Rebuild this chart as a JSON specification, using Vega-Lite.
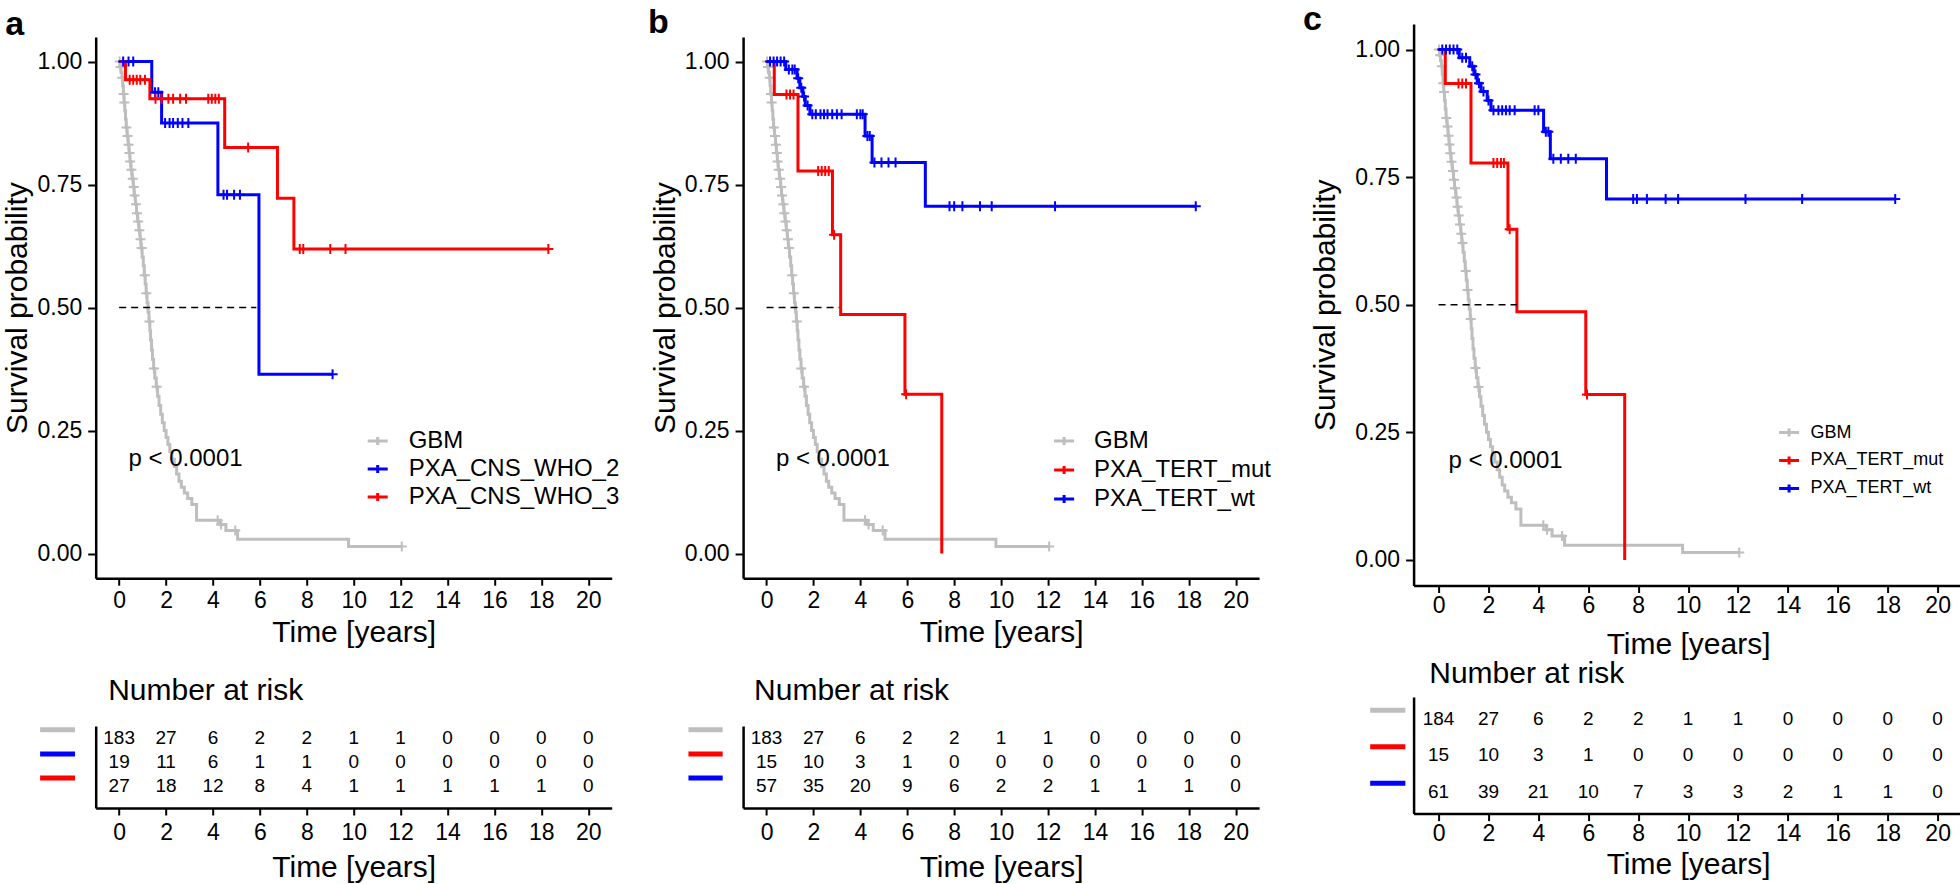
{
"$schema":"https://vega.github.io/schema/vega-lite/v6.json",
"background":"white",
"padding":{"left":2.7,"top":3,"right":0,"bottom":0},
"config":{
 "font":"Liberation Sans",
 "view":{"stroke":null},
 "axis":{"grid":false,"domainColor":"black","tickColor":"black","labelColor":"black","titleColor":"black","labelFontSize":23,"titleFontSize":30,"titleFontWeight":"normal","domainWidth":2.5,"tickWidth":2,"labelFont":"Liberation Sans","titleFont":"Liberation Sans"},
 "legend":{"labelFont":"Liberation Sans","labelColor":"black","labelLimit":500},
 "title":{"font":"Liberation Sans","color":"black"}
},
"datasets":{
 "gbm":[
  {"group":"GBM","t":0,"s":1},{"group":"GBM","t":0.04,"s":0.989},{"group":"GBM","t":0.08,"s":0.978},{"group":"GBM","t":0.12,"s":0.967},{"group":"GBM","t":0.15,"s":0.951},{"group":"GBM","t":0.18,"s":0.934},{"group":"GBM","t":0.21,"s":0.917},{"group":"GBM","t":0.24,"s":0.9},{"group":"GBM","t":0.27,"s":0.883},{"group":"GBM","t":0.3,"s":0.866},{"group":"GBM","t":0.34,"s":0.849},{"group":"GBM","t":0.38,"s":0.831},{"group":"GBM","t":0.42,"s":0.814},{"group":"GBM","t":0.46,"s":0.797},{"group":"GBM","t":0.5,"s":0.78},{"group":"GBM","t":0.55,"s":0.762},{"group":"GBM","t":0.6,"s":0.745},{"group":"GBM","t":0.64,"s":0.728},{"group":"GBM","t":0.69,"s":0.71},{"group":"GBM","t":0.74,"s":0.692},{"group":"GBM","t":0.79,"s":0.675},{"group":"GBM","t":0.84,"s":0.657},{"group":"GBM","t":0.89,"s":0.639},{"group":"GBM","t":0.93,"s":0.621},{"group":"GBM","t":0.98,"s":0.603},{"group":"GBM","t":1.03,"s":0.585},{"group":"GBM","t":1.07,"s":0.566},{"group":"GBM","t":1.11,"s":0.548},{"group":"GBM","t":1.15,"s":0.529},{"group":"GBM","t":1.19,"s":0.51},{"group":"GBM","t":1.23,"s":0.491},{"group":"GBM","t":1.27,"s":0.472},{"group":"GBM","t":1.31,"s":0.453},{"group":"GBM","t":1.34,"s":0.434},{"group":"GBM","t":1.38,"s":0.414},{"group":"GBM","t":1.42,"s":0.395},{"group":"GBM","t":1.47,"s":0.376},{"group":"GBM","t":1.52,"s":0.357},{"group":"GBM","t":1.58,"s":0.339},{"group":"GBM","t":1.64,"s":0.32},{"group":"GBM","t":1.7,"s":0.301},{"group":"GBM","t":1.77,"s":0.283},{"group":"GBM","t":1.84,"s":0.266},{"group":"GBM","t":1.92,"s":0.25},{"group":"GBM","t":2.0,"s":0.236},{"group":"GBM","t":2.08,"s":0.222},{"group":"GBM","t":2.16,"s":0.207},{"group":"GBM","t":2.25,"s":0.192},{"group":"GBM","t":2.35,"s":0.177},{"group":"GBM","t":2.45,"s":0.162},{"group":"GBM","t":2.55,"s":0.147},{"group":"GBM","t":2.65,"s":0.135},{"group":"GBM","t":2.78,"s":0.123},{"group":"GBM","t":2.92,"s":0.112},{"group":"GBM","t":3.1,"s":0.1},{"group":"GBM","t":3.3,"s":0.068},{"group":"GBM","t":4.3,"s":0.059},{"group":"GBM","t":4.55,"s":0.047},{"group":"GBM","t":5.05,"s":0.029},{"group":"GBM","t":9.78,"s":0.0145},{"group":"GBM","t":12.05,"s":0.0145}
 ],
 "gbm_cens":[
  {"group":"GBM","t":0.02,"s":1},{"group":"GBM","t":0.06,"s":0.989},{"group":"GBM","t":0.13,"s":0.967},{"group":"GBM","t":0.19,"s":0.934},{"group":"GBM","t":0.22,"s":0.917},{"group":"GBM","t":0.31,"s":0.866},{"group":"GBM","t":0.36,"s":0.849},{"group":"GBM","t":0.4,"s":0.831},{"group":"GBM","t":0.44,"s":0.814},{"group":"GBM","t":0.47,"s":0.797},{"group":"GBM","t":0.52,"s":0.78},{"group":"GBM","t":0.58,"s":0.762},{"group":"GBM","t":0.62,"s":0.745},{"group":"GBM","t":0.66,"s":0.728},{"group":"GBM","t":0.72,"s":0.71},{"group":"GBM","t":0.76,"s":0.692},{"group":"GBM","t":0.81,"s":0.675},{"group":"GBM","t":0.86,"s":0.657},{"group":"GBM","t":0.91,"s":0.639},{"group":"GBM","t":0.96,"s":0.621},{"group":"GBM","t":1.09,"s":0.566},{"group":"GBM","t":1.16,"s":0.529},{"group":"GBM","t":1.29,"s":0.472},{"group":"GBM","t":1.48,"s":0.376},{"group":"GBM","t":1.6,"s":0.339},{"group":"GBM","t":4.2,"s":0.068},{"group":"GBM","t":4.35,"s":0.059},{"group":"GBM","t":4.95,"s":0.047},{"group":"GBM","t":12.05,"s":0.0145}
 ],
 "pval":[{"label":"p < 0.0001","t":0.4,"s":0.193}],
 "a_curve":[
  {"group":"PXA_CNS_WHO_2","t":0,"s":1},{"group":"PXA_CNS_WHO_2","t":1.39,"s":0.9375},{"group":"PXA_CNS_WHO_2","t":1.81,"s":0.875},{"group":"PXA_CNS_WHO_2","t":4.21,"s":0.7292},{"group":"PXA_CNS_WHO_2","t":5.96,"s":0.3646},{"group":"PXA_CNS_WHO_2","t":9.1,"s":0.3646},
  {"group":"PXA_CNS_WHO_3","t":0,"s":1},{"group":"PXA_CNS_WHO_3","t":0.27,"s":0.963},{"group":"PXA_CNS_WHO_3","t":1.31,"s":0.9244},{"group":"PXA_CNS_WHO_3","t":4.5,"s":0.8254},{"group":"PXA_CNS_WHO_3","t":6.75,"s":0.7222},{"group":"PXA_CNS_WHO_3","t":7.45,"s":0.619},{"group":"PXA_CNS_WHO_3","t":18.3,"s":0.619}
 ],
 "a_cens":[
  {"group":"PXA_CNS_WHO_2","t":0.17,"s":1},{"group":"PXA_CNS_WHO_2","t":0.4,"s":1},{"group":"PXA_CNS_WHO_2","t":0.6,"s":1},{"group":"PXA_CNS_WHO_2","t":1.53,"s":0.9375},{"group":"PXA_CNS_WHO_2","t":1.67,"s":0.9375},{"group":"PXA_CNS_WHO_2","t":1.96,"s":0.875},{"group":"PXA_CNS_WHO_2","t":2.15,"s":0.875},{"group":"PXA_CNS_WHO_2","t":2.3,"s":0.875},{"group":"PXA_CNS_WHO_2","t":2.5,"s":0.875},{"group":"PXA_CNS_WHO_2","t":2.7,"s":0.875},{"group":"PXA_CNS_WHO_2","t":2.95,"s":0.875},{"group":"PXA_CNS_WHO_2","t":4.45,"s":0.7292},{"group":"PXA_CNS_WHO_2","t":4.6,"s":0.7292},{"group":"PXA_CNS_WHO_2","t":4.9,"s":0.7292},{"group":"PXA_CNS_WHO_2","t":5.15,"s":0.7292},{"group":"PXA_CNS_WHO_2","t":9.1,"s":0.3646},
  {"group":"PXA_CNS_WHO_3","t":0.45,"s":0.963},{"group":"PXA_CNS_WHO_3","t":0.6,"s":0.963},{"group":"PXA_CNS_WHO_3","t":0.75,"s":0.963},{"group":"PXA_CNS_WHO_3","t":0.9,"s":0.963},{"group":"PXA_CNS_WHO_3","t":1.1,"s":0.963},{"group":"PXA_CNS_WHO_3","t":1.55,"s":0.9244},{"group":"PXA_CNS_WHO_3","t":1.8,"s":0.9244},{"group":"PXA_CNS_WHO_3","t":2.1,"s":0.9244},{"group":"PXA_CNS_WHO_3","t":2.3,"s":0.9244},{"group":"PXA_CNS_WHO_3","t":2.6,"s":0.9244},{"group":"PXA_CNS_WHO_3","t":2.85,"s":0.9244},{"group":"PXA_CNS_WHO_3","t":3.8,"s":0.9244},{"group":"PXA_CNS_WHO_3","t":3.95,"s":0.9244},{"group":"PXA_CNS_WHO_3","t":4.1,"s":0.9244},{"group":"PXA_CNS_WHO_3","t":4.25,"s":0.9244},{"group":"PXA_CNS_WHO_3","t":5.5,"s":0.8254},{"group":"PXA_CNS_WHO_3","t":7.7,"s":0.619},{"group":"PXA_CNS_WHO_3","t":7.85,"s":0.619},{"group":"PXA_CNS_WHO_3","t":9.0,"s":0.619},{"group":"PXA_CNS_WHO_3","t":9.65,"s":0.619},{"group":"PXA_CNS_WHO_3","t":18.3,"s":0.619}
 ],
 "a_med":[{"t":0,"t1":5.85,"s":0.5}],
 "b_curve":[
  {"group":"PXA_TERT_mut","t":0,"s":1},{"group":"PXA_TERT_mut","t":0.33,"s":0.9333},{"group":"PXA_TERT_mut","t":1.34,"s":0.7778},{"group":"PXA_TERT_mut","t":2.81,"s":0.6481},{"group":"PXA_TERT_mut","t":3.16,"s":0.4861},{"group":"PXA_TERT_mut","t":5.9,"s":0.3241},{"group":"PXA_TERT_mut","t":7.47,"s":0},
  {"group":"PXA_TERT_wt","t":0,"s":1},{"group":"PXA_TERT_wt","t":0.82,"s":0.984},{"group":"PXA_TERT_wt","t":1.3,"s":0.966},{"group":"PXA_TERT_wt","t":1.42,"s":0.947},{"group":"PXA_TERT_wt","t":1.55,"s":0.929},{"group":"PXA_TERT_wt","t":1.65,"s":0.911},{"group":"PXA_TERT_wt","t":1.85,"s":0.893},{"group":"PXA_TERT_wt","t":4.2,"s":0.849},{"group":"PXA_TERT_wt","t":4.5,"s":0.795},{"group":"PXA_TERT_wt","t":6.77,"s":0.706},{"group":"PXA_TERT_wt","t":18.3,"s":0.706}
 ],
 "b_cens":[
  {"group":"PXA_TERT_mut","t":0.85,"s":0.9333},{"group":"PXA_TERT_mut","t":1.0,"s":0.9333},{"group":"PXA_TERT_mut","t":1.15,"s":0.9333},{"group":"PXA_TERT_mut","t":2.2,"s":0.7778},{"group":"PXA_TERT_mut","t":2.35,"s":0.7778},{"group":"PXA_TERT_mut","t":2.5,"s":0.7778},{"group":"PXA_TERT_mut","t":2.65,"s":0.7778},{"group":"PXA_TERT_mut","t":2.88,"s":0.6481},{"group":"PXA_TERT_mut","t":5.95,"s":0.3241},
  {"group":"PXA_TERT_wt","t":0.15,"s":1},{"group":"PXA_TERT_wt","t":0.3,"s":1},{"group":"PXA_TERT_wt","t":0.45,"s":1},{"group":"PXA_TERT_wt","t":0.6,"s":1},{"group":"PXA_TERT_wt","t":0.75,"s":1},{"group":"PXA_TERT_wt","t":0.95,"s":0.984},{"group":"PXA_TERT_wt","t":1.1,"s":0.984},{"group":"PXA_TERT_wt","t":1.2,"s":0.984},{"group":"PXA_TERT_wt","t":1.35,"s":0.966},{"group":"PXA_TERT_wt","t":1.48,"s":0.947},{"group":"PXA_TERT_wt","t":1.6,"s":0.929},{"group":"PXA_TERT_wt","t":1.75,"s":0.911},{"group":"PXA_TERT_wt","t":1.95,"s":0.893},{"group":"PXA_TERT_wt","t":2.1,"s":0.893},{"group":"PXA_TERT_wt","t":2.3,"s":0.893},{"group":"PXA_TERT_wt","t":2.45,"s":0.893},{"group":"PXA_TERT_wt","t":2.6,"s":0.893},{"group":"PXA_TERT_wt","t":2.8,"s":0.893},{"group":"PXA_TERT_wt","t":3.0,"s":0.893},{"group":"PXA_TERT_wt","t":3.2,"s":0.893},{"group":"PXA_TERT_wt","t":3.85,"s":0.893},{"group":"PXA_TERT_wt","t":4.0,"s":0.893},{"group":"PXA_TERT_wt","t":4.1,"s":0.893},{"group":"PXA_TERT_wt","t":4.3,"s":0.849},{"group":"PXA_TERT_wt","t":4.4,"s":0.849},{"group":"PXA_TERT_wt","t":4.6,"s":0.795},{"group":"PXA_TERT_wt","t":4.9,"s":0.795},{"group":"PXA_TERT_wt","t":5.2,"s":0.795},{"group":"PXA_TERT_wt","t":5.5,"s":0.795},{"group":"PXA_TERT_wt","t":7.8,"s":0.706},{"group":"PXA_TERT_wt","t":8.0,"s":0.706},{"group":"PXA_TERT_wt","t":8.35,"s":0.706},{"group":"PXA_TERT_wt","t":9.1,"s":0.706},{"group":"PXA_TERT_wt","t":9.6,"s":0.706},{"group":"PXA_TERT_wt","t":12.3,"s":0.706},{"group":"PXA_TERT_wt","t":18.3,"s":0.706}
 ],
 "b_med":[{"t":0,"t1":3.1,"s":0.5}],
 "c_curve":[
  {"group":"PXA_TERT_mut","t":0,"s":1},{"group":"PXA_TERT_mut","t":0.27,"s":0.9333},{"group":"PXA_TERT_mut","t":1.3,"s":0.7778},{"group":"PXA_TERT_mut","t":2.78,"s":0.6481},{"group":"PXA_TERT_mut","t":3.14,"s":0.4861},{"group":"PXA_TERT_mut","t":5.9,"s":0.3241},{"group":"PXA_TERT_mut","t":7.46,"s":0},
  {"group":"PXA_TERT_wt","t":0,"s":1},{"group":"PXA_TERT_wt","t":0.83,"s":0.984},{"group":"PXA_TERT_wt","t":1.25,"s":0.967},{"group":"PXA_TERT_wt","t":1.42,"s":0.951},{"group":"PXA_TERT_wt","t":1.55,"s":0.934},{"group":"PXA_TERT_wt","t":1.7,"s":0.918},{"group":"PXA_TERT_wt","t":1.95,"s":0.9},{"group":"PXA_TERT_wt","t":2.1,"s":0.881},{"group":"PXA_TERT_wt","t":4.21,"s":0.839},{"group":"PXA_TERT_wt","t":4.48,"s":0.786},{"group":"PXA_TERT_wt","t":6.73,"s":0.707},{"group":"PXA_TERT_wt","t":18.3,"s":0.707}
 ],
 "c_cens":[
  {"group":"PXA_TERT_mut","t":0.8,"s":0.9333},{"group":"PXA_TERT_mut","t":0.95,"s":0.9333},{"group":"PXA_TERT_mut","t":1.1,"s":0.9333},{"group":"PXA_TERT_mut","t":2.2,"s":0.7778},{"group":"PXA_TERT_mut","t":2.35,"s":0.7778},{"group":"PXA_TERT_mut","t":2.5,"s":0.7778},{"group":"PXA_TERT_mut","t":2.62,"s":0.7778},{"group":"PXA_TERT_mut","t":2.85,"s":0.6481},{"group":"PXA_TERT_mut","t":5.95,"s":0.3241},
  {"group":"PXA_TERT_wt","t":0.15,"s":1},{"group":"PXA_TERT_wt","t":0.3,"s":1},{"group":"PXA_TERT_wt","t":0.45,"s":1},{"group":"PXA_TERT_wt","t":0.6,"s":1},{"group":"PXA_TERT_wt","t":0.75,"s":1},{"group":"PXA_TERT_wt","t":0.95,"s":0.984},{"group":"PXA_TERT_wt","t":1.1,"s":0.984},{"group":"PXA_TERT_wt","t":1.35,"s":0.967},{"group":"PXA_TERT_wt","t":1.48,"s":0.951},{"group":"PXA_TERT_wt","t":1.62,"s":0.934},{"group":"PXA_TERT_wt","t":1.8,"s":0.918},{"group":"PXA_TERT_wt","t":2.0,"s":0.9},{"group":"PXA_TERT_wt","t":2.2,"s":0.881},{"group":"PXA_TERT_wt","t":2.4,"s":0.881},{"group":"PXA_TERT_wt","t":2.55,"s":0.881},{"group":"PXA_TERT_wt","t":2.7,"s":0.881},{"group":"PXA_TERT_wt","t":2.85,"s":0.881},{"group":"PXA_TERT_wt","t":3.05,"s":0.881},{"group":"PXA_TERT_wt","t":3.85,"s":0.881},{"group":"PXA_TERT_wt","t":4.0,"s":0.881},{"group":"PXA_TERT_wt","t":4.3,"s":0.839},{"group":"PXA_TERT_wt","t":4.4,"s":0.839},{"group":"PXA_TERT_wt","t":4.6,"s":0.786},{"group":"PXA_TERT_wt","t":4.9,"s":0.786},{"group":"PXA_TERT_wt","t":5.2,"s":0.786},{"group":"PXA_TERT_wt","t":5.5,"s":0.786},{"group":"PXA_TERT_wt","t":7.8,"s":0.707},{"group":"PXA_TERT_wt","t":7.95,"s":0.707},{"group":"PXA_TERT_wt","t":8.35,"s":0.707},{"group":"PXA_TERT_wt","t":9.1,"s":0.707},{"group":"PXA_TERT_wt","t":9.6,"s":0.707},{"group":"PXA_TERT_wt","t":12.3,"s":0.707},{"group":"PXA_TERT_wt","t":14.57,"s":0.707},{"group":"PXA_TERT_wt","t":18.3,"s":0.707}
 ],
 "c_med":[{"t":0,"t1":3.14,"s":0.5}],
 "a_risk":[
  {"group":"GBM","t":0,"n":183},{"group":"GBM","t":2,"n":27},{"group":"GBM","t":4,"n":6},{"group":"GBM","t":6,"n":2},{"group":"GBM","t":8,"n":2},{"group":"GBM","t":10,"n":1},{"group":"GBM","t":12,"n":1},{"group":"GBM","t":14,"n":0},{"group":"GBM","t":16,"n":0},{"group":"GBM","t":18,"n":0},{"group":"GBM","t":20,"n":0},
  {"group":"PXA_CNS_WHO_2","t":0,"n":19},{"group":"PXA_CNS_WHO_2","t":2,"n":11},{"group":"PXA_CNS_WHO_2","t":4,"n":6},{"group":"PXA_CNS_WHO_2","t":6,"n":1},{"group":"PXA_CNS_WHO_2","t":8,"n":1},{"group":"PXA_CNS_WHO_2","t":10,"n":0},{"group":"PXA_CNS_WHO_2","t":12,"n":0},{"group":"PXA_CNS_WHO_2","t":14,"n":0},{"group":"PXA_CNS_WHO_2","t":16,"n":0},{"group":"PXA_CNS_WHO_2","t":18,"n":0},{"group":"PXA_CNS_WHO_2","t":20,"n":0},
  {"group":"PXA_CNS_WHO_3","t":0,"n":27},{"group":"PXA_CNS_WHO_3","t":2,"n":18},{"group":"PXA_CNS_WHO_3","t":4,"n":12},{"group":"PXA_CNS_WHO_3","t":6,"n":8},{"group":"PXA_CNS_WHO_3","t":8,"n":4},{"group":"PXA_CNS_WHO_3","t":10,"n":1},{"group":"PXA_CNS_WHO_3","t":12,"n":1},{"group":"PXA_CNS_WHO_3","t":14,"n":1},{"group":"PXA_CNS_WHO_3","t":16,"n":1},{"group":"PXA_CNS_WHO_3","t":18,"n":1},{"group":"PXA_CNS_WHO_3","t":20,"n":0}
 ],
 "b_risk":[
  {"group":"GBM","t":0,"n":183},{"group":"GBM","t":2,"n":27},{"group":"GBM","t":4,"n":6},{"group":"GBM","t":6,"n":2},{"group":"GBM","t":8,"n":2},{"group":"GBM","t":10,"n":1},{"group":"GBM","t":12,"n":1},{"group":"GBM","t":14,"n":0},{"group":"GBM","t":16,"n":0},{"group":"GBM","t":18,"n":0},{"group":"GBM","t":20,"n":0},
  {"group":"PXA_TERT_mut","t":0,"n":15},{"group":"PXA_TERT_mut","t":2,"n":10},{"group":"PXA_TERT_mut","t":4,"n":3},{"group":"PXA_TERT_mut","t":6,"n":1},{"group":"PXA_TERT_mut","t":8,"n":0},{"group":"PXA_TERT_mut","t":10,"n":0},{"group":"PXA_TERT_mut","t":12,"n":0},{"group":"PXA_TERT_mut","t":14,"n":0},{"group":"PXA_TERT_mut","t":16,"n":0},{"group":"PXA_TERT_mut","t":18,"n":0},{"group":"PXA_TERT_mut","t":20,"n":0},
  {"group":"PXA_TERT_wt","t":0,"n":57},{"group":"PXA_TERT_wt","t":2,"n":35},{"group":"PXA_TERT_wt","t":4,"n":20},{"group":"PXA_TERT_wt","t":6,"n":9},{"group":"PXA_TERT_wt","t":8,"n":6},{"group":"PXA_TERT_wt","t":10,"n":2},{"group":"PXA_TERT_wt","t":12,"n":2},{"group":"PXA_TERT_wt","t":14,"n":1},{"group":"PXA_TERT_wt","t":16,"n":1},{"group":"PXA_TERT_wt","t":18,"n":1},{"group":"PXA_TERT_wt","t":20,"n":0}
 ],
 "c_risk":[
  {"group":"GBM","t":0,"n":184},{"group":"GBM","t":2,"n":27},{"group":"GBM","t":4,"n":6},{"group":"GBM","t":6,"n":2},{"group":"GBM","t":8,"n":2},{"group":"GBM","t":10,"n":1},{"group":"GBM","t":12,"n":1},{"group":"GBM","t":14,"n":0},{"group":"GBM","t":16,"n":0},{"group":"GBM","t":18,"n":0},{"group":"GBM","t":20,"n":0},
  {"group":"PXA_TERT_mut","t":0,"n":15},{"group":"PXA_TERT_mut","t":2,"n":10},{"group":"PXA_TERT_mut","t":4,"n":3},{"group":"PXA_TERT_mut","t":6,"n":1},{"group":"PXA_TERT_mut","t":8,"n":0},{"group":"PXA_TERT_mut","t":10,"n":0},{"group":"PXA_TERT_mut","t":12,"n":0},{"group":"PXA_TERT_mut","t":14,"n":0},{"group":"PXA_TERT_mut","t":16,"n":0},{"group":"PXA_TERT_mut","t":18,"n":0},{"group":"PXA_TERT_mut","t":20,"n":0},
  {"group":"PXA_TERT_wt","t":0,"n":61},{"group":"PXA_TERT_wt","t":2,"n":39},{"group":"PXA_TERT_wt","t":4,"n":21},{"group":"PXA_TERT_wt","t":6,"n":10},{"group":"PXA_TERT_wt","t":8,"n":7},{"group":"PXA_TERT_wt","t":10,"n":3},{"group":"PXA_TERT_wt","t":12,"n":3},{"group":"PXA_TERT_wt","t":14,"n":2},{"group":"PXA_TERT_wt","t":16,"n":1},{"group":"PXA_TERT_wt","t":18,"n":1},{"group":"PXA_TERT_wt","t":20,"n":0}
 ]
},
"resolve":{"scale":{"color":"independent"},"legend":{"color":"independent"}},
"spacing":30.9,
"hconcat":[
 {"resolve":{"scale":{"color":"independent"},"legend":{"color":"independent"}},"spacing":28.4,"hconcat":[
  {"bounds":"flush","spacing":0,"resolve":{"scale":{"color":"independent"},"legend":{"color":"independent"}},"vconcat":[
   {"data":{"values":[]},"mark":"point","width":516,"height":12.9},
   {"width":516,"height":541.2,
    "title":{"text":"a","anchor":"start","frame":"group","fontSize":34,"fontWeight":"bold","dx":-90.5,"dy":31.6,"offset":0,"baseline":"alphabetic"},
    "encoding":{
     "x":{"field":"t","type":"quantitative","scale":{"domain":[-1,21],"nice":false,"zero":false},"axis":{"values":[0,2,4,6,8,10,12,14,16,18,20],"title":"Time [years]","tickSize":7,"labelPadding":4,"titlePadding":5.5}},
     "y":{"field":"s","type":"quantitative","scale":{"domain":[-0.05,1.05],"nice":false,"zero":false},"axis":{"values":[0,0.25,0.5,0.75,1],"format":".2f","title":"Survival probability","tickSize":8,"labelPadding":6,"titlePadding":4}}},
    "layer":[
     {"data":{"name":"gbm"},"mark":{"type":"line","interpolate":"step-after","strokeWidth":3},
      "encoding":{"color":{"field":"group","type":"nominal","scale":{"domain":["GBM","PXA_CNS_WHO_2","PXA_CNS_WHO_3"],"range":["#BEBEBE","#0000FF","#FF0000"]},
        "legend":{"title":null,"orient":"none","legendX":270,"legendY":392,"labelFontSize":24,"symbolType":"M-1,0L1,0M0,-0.4L0,0.4","symbolSize":400,"symbolStrokeWidth":3,"labelOffset":19,"rowPadding":4,"padding":0}}}},
     {"data":{"name":"gbm_cens"},"mark":{"type":"point","shape":"M-1,0L1,0M0,-1L0,1","size":100,"strokeWidth":2,"filled":false,"opacity":1},
      "encoding":{"color":{"field":"group","type":"nominal","legend":null}}},
     {"data":{"name":"a_curve"},"mark":{"type":"line","interpolate":"step-after","strokeWidth":3},
      "encoding":{"color":{"field":"group","type":"nominal","legend":null}}},
     {"data":{"name":"a_cens"},"mark":{"type":"point","shape":"M-1,0L1,0M0,-1L0,1","size":100,"strokeWidth":2,"filled":false,"opacity":1},
      "encoding":{"color":{"field":"group","type":"nominal","legend":null}}},
     {"data":{"name":"a_med"},"mark":{"type":"rule","strokeDash":[7,5],"strokeWidth":1.5,"color":"black"},
      "encoding":{"x2":{"field":"t1"}}},
     {"data":{"name":"pval"},"mark":{"type":"text","align":"left","baseline":"middle","fontSize":24,"color":"black"},
      "encoding":{"text":{"field":"label"}}}
    ]},
   {"data":{"values":[]},"mark":"point","width":516,"height":146.4},
   {"width":516,"height":82,
    "title":{"text":"Number at risk","anchor":"start","frame":"group","fontSize":30,"fontWeight":"normal","dx":12.5,"dy":4,"offset":0,"baseline":"alphabetic"},
    "data":{"name":"a_risk"},
    "encoding":{
     "x":{"field":"t","type":"quantitative","scale":{"domain":[-1,21],"nice":false,"zero":false},"axis":{"values":[0,2,4,6,8,10,12,14,16,18,20],"title":"Time [years]","tickSize":7,"labelPadding":7,"titlePadding":7.5}},
     "y":{"field":"group","type":"nominal","scale":{"type":"point","domain":["GBM","PXA_CNS_WHO_2","PXA_CNS_WHO_3"],"padding":0.7,"align":0.35},"axis":{"ticks":false,"labels":false,"title":null}}},
    "layer":[
     {"mark":{"type":"text","fontSize":19,"baseline":"middle","color":"black"},
      "encoding":{"text":{"field":"n","type":"quantitative","format":"d"}}},
     {"transform":[{"filter":"datum.t == 0"}],"mark":{"type":"rule","strokeWidth":5,"yOffset":-8},
      "encoding":{"x":{"datum":-3.37},"x2":{"datum":-1.88},
       "color":{"field":"group","type":"nominal","scale":{"domain":["GBM","PXA_CNS_WHO_2","PXA_CNS_WHO_3"],"range":["#BEBEBE","#0000FF","#FF0000"]},"legend":null}}}
    ]}
  ]},
  {"bounds":"flush","spacing":0,"resolve":{"scale":{"color":"independent"},"legend":{"color":"independent"}},"vconcat":[
   {"data":{"values":[]},"mark":"point","width":516,"height":12.9},
   {"width":516,"height":541.2,
    "title":{"text":"b","anchor":"start","frame":"group","fontSize":34,"fontWeight":"bold","dx":-95,"dy":29.6,"offset":0,"baseline":"alphabetic"},
    "encoding":{
     "x":{"field":"t","type":"quantitative","scale":{"domain":[-1,21],"nice":false,"zero":false},"axis":{"values":[0,2,4,6,8,10,12,14,16,18,20],"title":"Time [years]","tickSize":7,"labelPadding":4,"titlePadding":5.5}},
     "y":{"field":"s","type":"quantitative","scale":{"domain":[-0.05,1.05],"nice":false,"zero":false},"axis":{"values":[0,0.25,0.5,0.75,1],"format":".2f","title":"Survival probability","tickSize":8,"labelPadding":6,"titlePadding":4}}},
    "layer":[
     {"data":{"name":"gbm"},"mark":{"type":"line","interpolate":"step-after","strokeWidth":3},
      "encoding":{"color":{"field":"group","type":"nominal","scale":{"domain":["GBM","PXA_TERT_mut","PXA_TERT_wt"],"range":["#BEBEBE","#FF0000","#0000FF"]},
        "legend":{"title":null,"orient":"none","legendX":309,"legendY":392,"labelFontSize":24,"symbolType":"M-1,0L1,0M0,-0.4L0,0.4","symbolSize":400,"symbolStrokeWidth":3,"labelOffset":18,"rowPadding":5,"padding":0}}}},
     {"data":{"name":"gbm_cens"},"mark":{"type":"point","shape":"M-1,0L1,0M0,-1L0,1","size":100,"strokeWidth":2,"filled":false,"opacity":1},
      "encoding":{"color":{"field":"group","type":"nominal","legend":null}}},
     {"data":{"name":"b_curve"},"mark":{"type":"line","interpolate":"step-after","strokeWidth":3},
      "encoding":{"color":{"field":"group","type":"nominal","legend":null}}},
     {"data":{"name":"b_cens"},"mark":{"type":"point","shape":"M-1,0L1,0M0,-1L0,1","size":100,"strokeWidth":2,"filled":false,"opacity":1},
      "encoding":{"color":{"field":"group","type":"nominal","legend":null}}},
     {"data":{"name":"b_med"},"mark":{"type":"rule","strokeDash":[7,5],"strokeWidth":1.5,"color":"black"},
      "encoding":{"x2":{"field":"t1"}}},
     {"data":{"name":"pval"},"mark":{"type":"text","align":"left","baseline":"middle","fontSize":24,"color":"black"},
      "encoding":{"text":{"field":"label"}}}
    ]},
   {"data":{"values":[]},"mark":"point","width":516,"height":146.4},
   {"width":516,"height":82,
    "title":{"text":"Number at risk","anchor":"start","frame":"group","fontSize":30,"fontWeight":"normal","dx":11,"dy":4,"offset":0,"baseline":"alphabetic"},
    "data":{"name":"b_risk"},
    "encoding":{
     "x":{"field":"t","type":"quantitative","scale":{"domain":[-1,21],"nice":false,"zero":false},"axis":{"values":[0,2,4,6,8,10,12,14,16,18,20],"title":"Time [years]","tickSize":7,"labelPadding":7,"titlePadding":7.5}},
     "y":{"field":"group","type":"nominal","scale":{"type":"point","domain":["GBM","PXA_TERT_mut","PXA_TERT_wt"],"padding":0.7,"align":0.35},"axis":{"ticks":false,"labels":false,"title":null}}},
    "layer":[
     {"mark":{"type":"text","fontSize":19,"baseline":"middle","color":"black"},
      "encoding":{"text":{"field":"n","type":"quantitative","format":"d"}}},
     {"transform":[{"filter":"datum.t == 0"}],"mark":{"type":"rule","strokeWidth":5,"yOffset":-8},
      "encoding":{"x":{"datum":-3.33},"x2":{"datum":-1.87},
       "color":{"field":"group","type":"nominal","scale":{"domain":["GBM","PXA_TERT_mut","PXA_TERT_wt"],"range":["#BEBEBE","#FF0000","#0000FF"]},"legend":null}}}
    ]}
  ]}
 ]},
 {"bounds":"flush","spacing":0,"resolve":{"scale":{"color":"independent"},"legend":{"color":"independent"}},"vconcat":[
  {"width":549,"height":561.5,
   "title":{"text":"c","anchor":"start","frame":"group","fontSize":34,"fontWeight":"bold","dx":-110.5,"dy":40,"offset":0,"baseline":"alphabetic"},
   "encoding":{
    "x":{"field":"t","type":"quantitative","scale":{"domain":[-1,21],"nice":false,"zero":false},"axis":{"values":[0,2,4,6,8,10,12,14,16,18,20],"title":"Time [years]","tickSize":7,"labelPadding":2,"titlePadding":12}},
    "y":{"field":"s","type":"quantitative","scale":{"domain":[-0.05,1.05],"nice":false,"zero":false},"axis":{"values":[0,0.25,0.5,0.75,1],"format":".2f","title":"Survival probability","tickSize":8,"labelPadding":6,"titlePadding":14}}},
   "layer":[
    {"data":{"name":"gbm"},"mark":{"type":"line","interpolate":"step-after","strokeWidth":3},
     "encoding":{"color":{"field":"group","type":"nominal","scale":{"domain":["GBM","PXA_TERT_mut","PXA_TERT_wt"],"range":["#BEBEBE","#FF0000","#0000FF"]},
       "legend":{"title":null,"orient":"none","legendX":364,"legendY":397,"labelFontSize":18,"symbolType":"M-1,0L1,0M0,-0.4L0,0.4","symbolSize":400,"symbolStrokeWidth":3,"labelOffset":10,"rowPadding":6,"padding":0}}}},
    {"data":{"name":"gbm_cens"},"mark":{"type":"point","shape":"M-1,0L1,0M0,-1L0,1","size":100,"strokeWidth":2,"filled":false,"opacity":1},
     "encoding":{"color":{"field":"group","type":"nominal","legend":null}}},
    {"data":{"name":"c_curve"},"mark":{"type":"line","interpolate":"step-after","strokeWidth":3},
     "encoding":{"color":{"field":"group","type":"nominal","legend":null}}},
    {"data":{"name":"c_cens"},"mark":{"type":"point","shape":"M-1,0L1,0M0,-1L0,1","size":100,"strokeWidth":2,"filled":false,"opacity":1},
     "encoding":{"color":{"field":"group","type":"nominal","legend":null}}},
    {"data":{"name":"c_med"},"mark":{"type":"rule","strokeDash":[7,5],"strokeWidth":1.5,"color":"black"},
     "encoding":{"x2":{"field":"t1"}}},
    {"data":{"name":"pval"},"mark":{"type":"text","align":"left","baseline":"middle","fontSize":24,"color":"black"},
     "encoding":{"text":{"field":"label"}}}
   ]},
  {"data":{"values":[]},"mark":"point","width":549,"height":110.7},
  {"width":549,"height":116.6,
   "title":{"text":"Number at risk","anchor":"start","frame":"group","fontSize":30,"fontWeight":"normal","dx":15.7,"dy":16.3,"offset":0,"baseline":"alphabetic"},
   "data":{"name":"c_risk"},
   "encoding":{
    "x":{"field":"t","type":"quantitative","scale":{"domain":[-1,21],"nice":false,"zero":false},"axis":{"values":[0,2,4,6,8,10,12,14,16,18,20],"title":"Time [years]","tickSize":7,"labelPadding":2,"titlePadding":4}},
    "y":{"field":"group","type":"nominal","scale":{"type":"point","domain":["GBM","PXA_TERT_mut","PXA_TERT_wt"],"padding":0.6},"axis":{"ticks":false,"labels":false,"title":null}}},
   "layer":[
    {"mark":{"type":"text","fontSize":19,"baseline":"middle","color":"black"},
     "encoding":{"text":{"field":"n","type":"quantitative","format":"d"}}},
    {"transform":[{"filter":"datum.t == 0"}],"mark":{"type":"rule","strokeWidth":5,"yOffset":-8.5},
     "encoding":{"x":{"datum":-2.74},"x2":{"datum":-1.33},
      "color":{"field":"group","type":"nominal","scale":{"domain":["GBM","PXA_TERT_mut","PXA_TERT_wt"],"range":["#BEBEBE","#FF0000","#0000FF"]},"legend":null}}}
   ]}
 ]}
]
}
